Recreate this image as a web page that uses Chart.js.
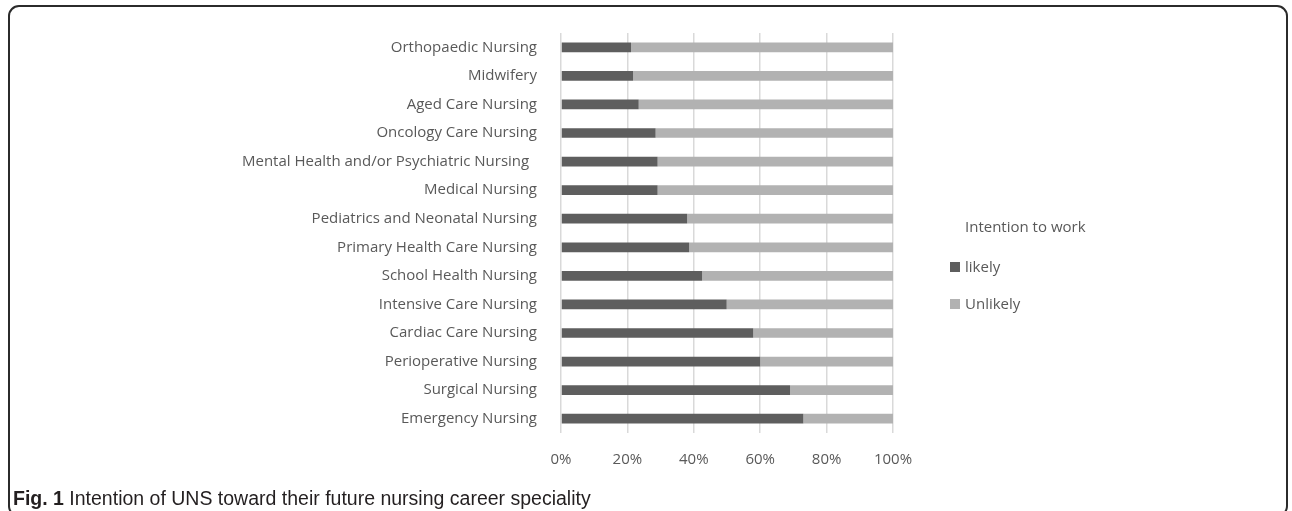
<!DOCTYPE html>
<html>
<head>
<meta charset="utf-8">
<script src="https://cdn.jsdelivr.net/npm/chart.js@4"></script>
<style>
  html, body { margin: 0; padding: 0; background: #ffffff; }
  #wrap { position: relative; width: 1292px; height: 511px; overflow: hidden; }
  #frame { position: absolute; left: 8px; top: 5px; width: 1280px; height: 512px;
           border: 2px solid #2b2b2b; border-radius: 11px; box-sizing: border-box; }
  #chart { position: absolute; left: 0; top: 0; }
  #caption { position: absolute; left: 13px; top: 486px; font-family: "Liberation Sans Narrow", "Arial Narrow", "Liberation Sans", sans-serif;
             font-size: 19.5px; color: #231f20; white-space: nowrap; line-height: 24px; }
  #caption b { font-weight: bold; }
</style>
</head>
<body>
<div id="wrap">
  <div id="frame"></div>
  <canvas id="chart" width="1292" height="511"></canvas>
  <div id="caption"><b>Fig. 1</b> Intention of UNS toward their future nursing career speciality</div>
</div>
<script>
const categories = [
  "Orthopaedic Nursing",
  "Midwifery",
  "Aged Care Nursing",
  "Oncology Care Nursing",
  "Mental Health and/or Psychiatric Nursing  ",
  "Medical Nursing",
  "Pediatrics and Neonatal Nursing",
  "Primary Health Care Nursing",
  "School Health Nursing",
  "Intensive Care Nursing",
  "Cardiac Care Nursing",
  "Perioperative Nursing",
  "Surgical Nursing",
  "Emergency Nursing"
];
const likely   = [21.1, 21.7, 23.4, 28.5, 29.1, 29.1, 38.0, 38.6, 42.5, 49.9, 57.9, 60.0, 69.0, 73.0];
const unlikely = [78.9, 78.3, 76.6, 71.5, 70.9, 70.9, 62.0, 61.4, 57.5, 50.1, 42.1, 40.0, 31.0, 27.0];
const seriesNames = ["likely", "Unlikely"];
const legendTitle = "Intention to work";
const xTicks = [0, 20, 40, 60, 80, 100];

const FONT = "'Open Sans', 'Noto Sans', sans-serif";
const TXT = "#595959";

const legendPlugin = {
  id: "customLegend",
  afterDraw(chart) {
    const ctx = chart.ctx;
    ctx.save();
    ctx.font = "15px " + FONT;
    ctx.fillStyle = TXT;
    ctx.textBaseline = "middle";
    ctx.textAlign = "left";
    ctx.fillText(legendTitle, 965, 228);
    chart.data.datasets.forEach((ds, i) => {
      const y = 267 + i * 37;
      ctx.fillStyle = ds.backgroundColor;
      ctx.fillRect(950, y - 5, 10, 10);
      ctx.fillStyle = TXT;
      ctx.fillText(ds.label, 965, y + 1);
    });
    ctx.restore();
  }
};

new Chart(document.getElementById("chart"), {
  type: "bar",
  data: {
    labels: categories,
    datasets: [
      { label: seriesNames[0], data: likely, backgroundColor: "#5e5e5e", categoryPercentage: 1, barPercentage: 0.34 },
      { label: seriesNames[1], data: unlikely, backgroundColor: "#b2b2b2", categoryPercentage: 1, barPercentage: 0.34 }
    ]
  },
  options: {
    indexAxis: "y",
    responsive: false,
    animation: false,
    devicePixelRatio: 1,
    layout: { padding: { left: 0, right: 399, top: 25, bottom: 38 } },
    plugins: { legend: { display: false }, tooltip: { enabled: false }, title: { display: false } },
    scales: {
      x: {
        stacked: true, min: 0, max: 100,
        afterBuildTicks: s => { s.ticks = xTicks.map(v => ({ value: v })); },
        afterFit: s => { s.height = 40; },
        grid: { color: "#d9d9d9", lineWidth: 1.5, drawTicks: false },
        border: { display: false },
        ticks: { padding: 18, color: TXT, font: { family: FONT, size: 15 }, callback: v => v + "%" }
      },
      y: {
        stacked: true,
        afterFit: s => { s.width = 561; },
        grid: { display: false, drawTicks: false },
        border: { display: false },
        ticks: { padding: 24, color: TXT, font: { family: FONT, size: 15 } }
      }
    }
  },
  plugins: [legendPlugin]
});
</script>
</body>
</html>
